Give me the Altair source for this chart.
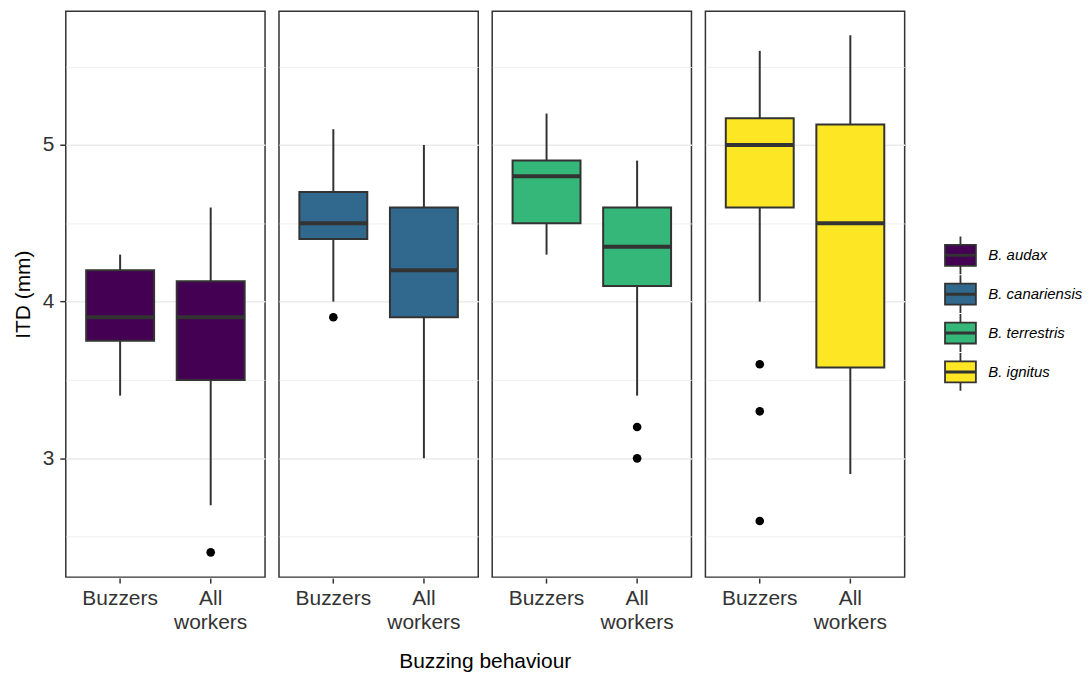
import altair as alt
import pandas as pd

species = ["B. audax", "B. canariensis", "B. terrestris", "B. ignitus"]
groups = ["Buzzers", "All workers"]
colors = ["#440154", "#31688E", "#35B779", "#FDE725"]

# box statistics, order: (species, group) for each species -> Buzzers, All workers
box_species = [s for s in species for _ in groups]
box_group = groups * len(species)
lower = [3.4, 2.7, 4.0, 3.0, 4.3, 3.4, 4.0, 2.9]
q1 = [3.75, 3.5, 4.4, 3.9, 4.5, 4.1, 4.6, 3.58]
median = [3.9, 3.9, 4.5, 4.2, 4.8, 4.35, 5.0, 4.5]
q3 = [4.2, 4.13, 4.7, 4.6, 4.9, 4.6, 5.17, 5.13]
upper = [4.3, 4.6, 5.1, 5.0, 5.2, 4.9, 5.6, 5.7]

# outliers
out_species = ["B. audax", "B. canariensis", "B. terrestris", "B. terrestris",
               "B. ignitus", "B. ignitus", "B. ignitus"]
out_group = ["All workers", "Buzzers", "All workers", "All workers",
             "Buzzers", "Buzzers", "Buzzers"]
out_value = [2.4, 3.9, 3.2, 3.0, 3.6, 3.3, 2.6]

y_breaks = [2.5, 3, 3.5, 4, 4.5, 5, 5.5]

boxes = pd.DataFrame({
    "kind": "box", "species": box_species, "group": box_group,
    "lower": lower, "q1": q1, "median": median, "q3": q3, "upper": upper,
})
outs = pd.DataFrame({
    "kind": "out", "species": out_species, "group": out_group, "value": out_value,
})
df = pd.concat([boxes, outs], ignore_index=True)

FONT = "Liberation Sans"
DARK = "#333333"
is_major = "datum.value % 1 == 0"

yscale = alt.Scale(domain=[2.242, 5.853], nice=False, zero=False)
yaxis = alt.Axis(
    values=y_breaks,
    labelExpr=f"{is_major} ? '' + datum.value : ''",
    tickOpacity={"condition": {"test": is_major, "value": 1}, "value": 0},
    gridWidth={"condition": {"test": is_major, "value": 1.5}, "value": 0.8},
    tickSize=5, labelPadding=6, titlePadding=9,
)
x = alt.X(
    "group:N",
    scale=alt.Scale(domain=groups, paddingInner=0.25, paddingOuter=0.225),
    axis=alt.Axis(
        labelExpr="datum.value == 'All workers' ? ['All', 'workers'] : datum.label",
        labelLineHeight=25, labelAngle=0, tickSize=5, labelPadding=4,
        labelBaseline="top",
    ),
    title=None,
)

KEY = ("M-1.033,-0.7H1.033V0.7H-1.033Z "
       "M-1.033,-0.04H1.033V0.04H-1.033Z "
       "M0,-0.7V-1.267 M0,0.7V1.267")

base = alt.Chart()

whisk = base.mark_rule(color=DARK, strokeWidth=2).encode(
    x=x,
    y=alt.Y("lower:Q", scale=yscale, axis=yaxis, title="ITD (mm)"),
    y2="upper:Q",
).transform_filter("datum.kind == 'box'")

box = base.mark_bar(stroke=DARK, strokeWidth=2).encode(
    x=x,
    y=alt.Y("q1:Q", scale=yscale, title="ITD (mm)"),
    y2="q3:Q",
    color=alt.Color(
        "species:N",
        scale=alt.Scale(domain=species, range=colors),
        legend=alt.Legend(
            title=None, orient="none", legendX=882, legendY=229,
            symbolType=KEY,
            symbolSize=900, symbolStrokeColor=DARK, symbolStrokeWidth=1.8,
            symbolOpacity=1, labelFontSize=15, labelFontStyle="italic",
            labelColor="black", labelFont=FONT, rowPadding=-15, labelOffset=12,
        ),
    ),
).transform_filter("datum.kind == 'box'")

med = base.mark_tick(color=DARK, thickness=4, size=68, opacity=1).encode(
    x=x,
    y=alt.Y("median:Q", scale=yscale, title="ITD (mm)"),
).transform_filter("datum.kind == 'box'")

pts = base.mark_circle(color="black", size=75, opacity=1).encode(
    x=x,
    y=alt.Y("value:Q", scale=yscale, title="ITD (mm)"),
).transform_filter("datum.kind == 'out'")

layered = alt.layer(whisk, box, med, pts, data=df).properties(width=200, height=568)

chart = layered.facet(
    column=alt.Column(
        "species:N", sort=species,
        header=alt.Header(
            labels=False, title="Buzzing behaviour", titleOrient="bottom",
            titleFontSize=21, titleFontWeight="normal", titleColor="black",
            titleFont=FONT, titlePadding=8,
        ),
    ),
    spacing=12,
).properties(
    padding={"left": 4, "top": 1, "right": 0, "bottom": 2},
).configure_view(
    stroke=DARK, strokeWidth=1.5,
).configure_axis(
    labelFont=FONT, titleFont=FONT, labelFontSize=21, titleFontSize=21,
    labelColor=DARK, titleColor="black", titleFontWeight="normal",
    gridColor="#EBEBEB", domain=False, tickColor=DARK, tickWidth=1.5,
)

chart.save("out.html", embed_options={"renderer": "svg", "actions": False})
